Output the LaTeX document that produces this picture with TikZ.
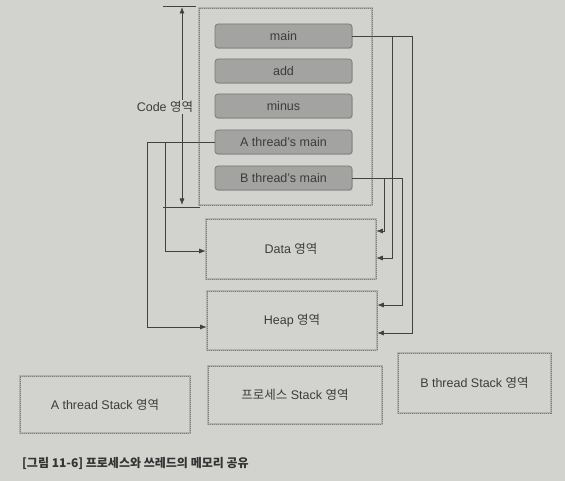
\documentclass[tikz,border=0pt]{standalone}
\usepackage{fontspec}
\setmainfont{Liberation Sans}
\newfontfamily\kr{Noto Sans CJK KR}
\usetikzlibrary{calc,arrows.meta,shadows}
\definecolor{bg}{RGB}{210,210,207}
\definecolor{band}{RGB}{178,178,176}
\definecolor{dots}{RGB}{125,125,123}
\definecolor{boxfill}{RGB}{163,163,161}
\definecolor{boxdraw}{RGB}{120,120,118}
\definecolor{txt}{RGB}{60,60,60}
\definecolor{ln}{RGB}{65,65,65}
\tikzset{
  region/.style={preaction={draw=band, line width=2.6pt, solid}, draw=dots, line width=0.6pt, dash pattern=on 1pt off 1pt, text=txt, font=\fontsize{12.5}{14}\selectfont},
  fnbox/.style={rounded corners=3pt, fill=boxfill, draw=boxdraw, line width=0.7pt, minimum width=137pt, minimum height=24pt, text=txt, font=\fontsize{12.5}{14}\selectfont, drop shadow={shadow xshift=0.8pt, shadow yshift=-1pt, fill=black!35, opacity=0.6}},
  conn/.style={draw=ln, line width=0.65pt, -{Latex[length=6.5pt,width=5pt]}},
  dim/.style={draw=ln, line width=0.65pt},
}
\begin{document}
\begin{tikzpicture}[x=1pt,y=-1pt]
\useasboundingbox (0,0) rectangle (565,481);
\fill[bg] (0,0) rectangle (565,481);
% code region
\draw[region] (199,8) rectangle (372,205);
\node[fnbox] (main) at (283.5,36) {main};
\node[fnbox] (add) at (283.5,71) {add};
\node[fnbox] (minus) at (283.5,106) {minus};
\node[fnbox] (amain) at (283.5,142) {A thread's main};
\node[fnbox] (bmain) at (283.5,178) {B thread's main};
% data, heap
\node[region, minimum width=170pt, minimum height=60pt] (data) at (291,249) {Data {\kr 영역}};
\node[region, minimum width=170pt, minimum height=59pt] (heap) at (292,320.5) {Heap {\kr 영역}};
% stacks
\node[region, minimum width=170pt, minimum height=57pt] (astack) at (105,404.5) {A thread Stack {\kr 영역}};
\node[region, minimum width=174pt, minimum height=58pt] (pstack) at (295,395) {{\kr 프로세스} Stack {\kr 영역}};
\node[region, minimum width=153pt, minimum height=60pt] (bstack) at (474.5,383) {B thread Stack {\kr 영역}};
% code dimension
\coordinate (ct1) at (163,6);
\coordinate (ct2) at (196,6);
\coordinate (cb1) at (163,207);
\coordinate (cb2) at (200,207);
\coordinate (ctop) at (182,7);
\coordinate (cbot) at (182,205);
\draw[dim] (ct1) -- (ct2);
\draw[dim] (cb1) -- (cb2);
\draw[dim, {Latex[length=6.5pt,width=5pt]}-{Latex[length=6.5pt,width=5pt]}] (ctop) -- (cbot);
\node[fill=bg, inner sep=1pt, text=txt, font=\fontsize{12.5}{14}\selectfont] (codelbl) at (165,107) {Code {\kr 영역}};
% connectors
\draw[conn] (main.east) -- ++(60,0) |- ([yshift=-12.5pt]heap.east);
\draw[conn] (main.east) -- ++(40,0) |- ([yshift=-9pt]data.east);
\draw[conn] (bmain.east) -- ++(50,0) |- ([yshift=15.5pt]heap.east);
\draw[conn] (bmain.east) -- ++(32,0) |- ([yshift=18pt]data.east);
\draw[conn] (amain.west) -- ++(-67,0) |- ([yshift=-6.5pt]heap.west);
\draw[conn] (amain.west) -- ++(-49,0) |- ([yshift=-2pt]data.west);
% caption
\node[anchor=west, text=black!80, font=\fontsize{12}{14}\selectfont\kr\bfseries, inner sep=0pt] (cap) at (22,463) {[그림 11-6] 프로세스와 쓰레드의 메모리 공유};
\end{tikzpicture}
\end{document}
